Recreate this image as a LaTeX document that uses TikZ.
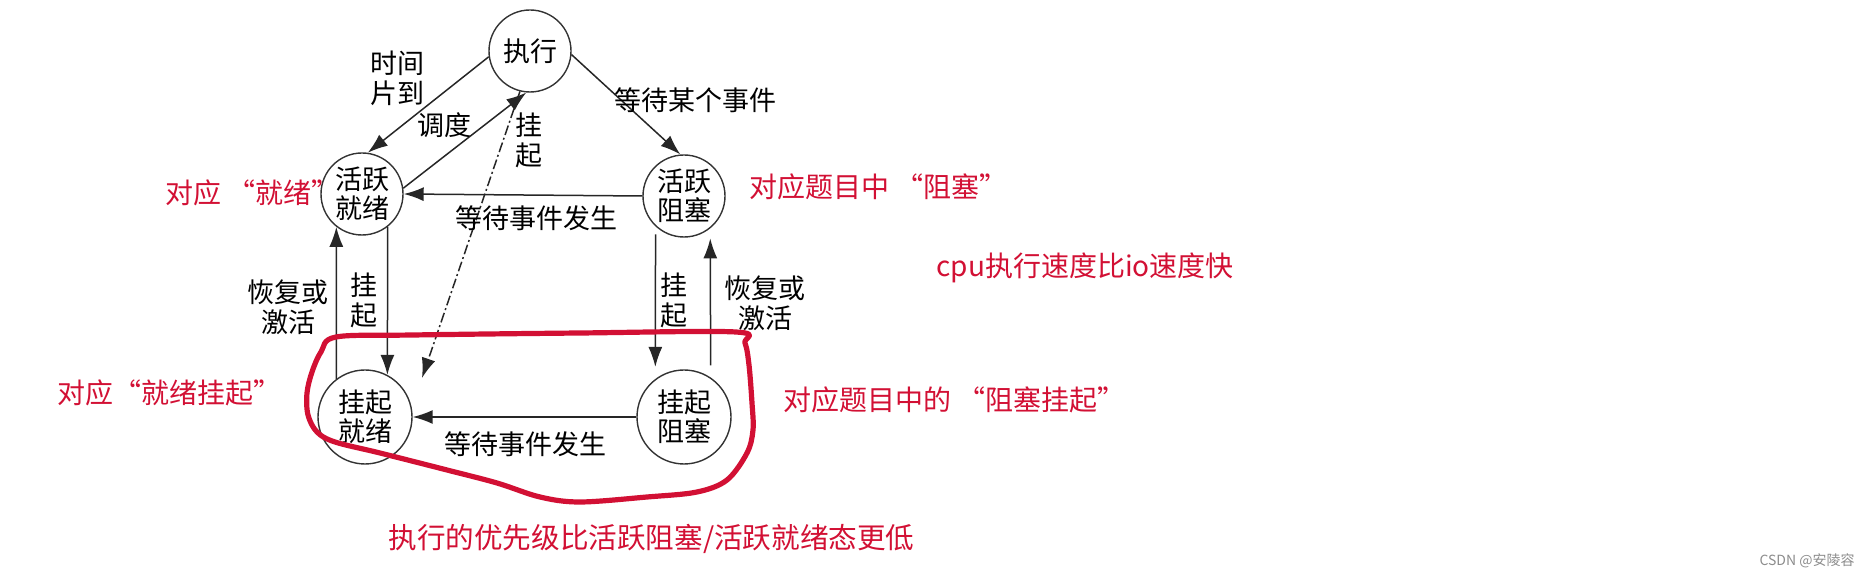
\documentclass[tikz,border=0pt]{standalone}
\usepackage{fontspec}
\newfontfamily\cjk{Noto Sans CJK SC}
\usetikzlibrary{arrows.meta}
\definecolor{markred}{RGB}{210,16,52}
\tikzset{
  state/.style={draw=black!80, line width=0.7pt, circle, minimum size=41pt, inner sep=0pt, align=center, font=\cjk\fontsize{13.5}{14.5}\selectfont},
  bigstate/.style={state, minimum size=47pt},
  trans/.style={draw=black!85, line width=0.75pt, -{Latex[length=10pt,width=7pt]}},
  lbl/.style={inner sep=0pt, align=center, font=\cjk\fontsize{13.5}{15}\selectfont},
  note/.style={inner sep=0pt, anchor=west, text=markred, font=\cjk\fontsize{14}{16}\selectfont},
}

\begin{document}
\begin{tikzpicture}[x=0.5pt,y=0.5pt,yscale=-1,xscale=1]
    \useasboundingbox (0,0) rectangle (1869,576);

    % States
    \node[state] (zx) at (530,51) {执行};
    \node[state] (hy) at (362,194) {活跃\\就绪};
    \node[state] (hz) at (684,196) {活跃\\阻塞};
    \node[bigstate] (gj) at (365,417) {挂起\\就绪};
    \node[bigstate] (gz) at (684,417) {挂起\\阻塞};
    \coordinate (gjs) at (422,378);

    %Straight Lines: 时间片到
    \draw[trans] (zx.188) -- (hy.82);
    %Straight Lines: 调度
    \draw[trans] (hy.8) -- (zx.-95);
    %Straight Lines: 挂起 (dash dot)
    \draw[trans, dash pattern=on 5pt off 1.5pt on 1pt off 1.5pt] (zx.-104) -- (gjs);
    %Straight Lines: 等待某个事件
    \draw[trans] (zx.-5) -- (hz.95);
    %Straight Lines: 等待事件发生
    \draw[trans] (hz.west) -- (hy.east);
    %Straight Lines: 挂起, left
    \draw[trans] (hy.-52) -- (gj.62);
    %Straight Lines: 恢复或激活, left
    \draw[trans] (gj.127) -- (hy.-128);
    %Straight Lines: 挂起, right
    \draw[trans, shorten <=4pt, shorten >=6pt] (hz.-133) -- (gz.127);
    %Straight Lines: 恢复或激活, right
    \draw[trans, shorten <=6pt, shorten >=5pt] (gz.56) -- (hz.-51);
    %Straight Lines: 等待事件发生, bottom
    \draw[trans] (gz.west) -- (gj.east);

    % Text Node
    \node[lbl] (l1) at (397,78) {时间\\片到};
    % Text Node
    \node[lbl] (l2) at (444,125) {调度};
    % Text Node
    \node[lbl] (l3) at (529,140) {挂\\起};
    % Text Node
    \node[lbl] (l4) at (695,100) {等待某个事件};
    % Text Node
    \node[lbl] (l5) at (536,218) {等待事件发生};
    % Text Node
    \node[lbl] (l6) at (288,307) {恢复或\\激活};
    % Text Node
    \node[lbl] (l7) at (364,300) {挂\\起};
    % Text Node
    \node[lbl] (l8) at (674,300) {挂\\起};
    % Text Node
    \node[lbl] (l9) at (765,303) {恢复或\\激活};
    % Text Node
    \node[lbl] (l10) at (525,444) {等待事件发生};

    %Curve Lines: red loop
    \draw[markred, line width=2.6pt, line join=round] plot[smooth cycle, tension=0.55] coordinates {
      (336,337) (413,335) (580,333) (736,332) (745,343) (749,365) (752,403) (753,430)
      (747,453) (727,480) (697,492) (647,497) (580,502) (540,497) (497,483) (447,470)
      (380,453) (335,442) (317,432) (308,415) (307,393) (312,372) (321,352)};

    % Red notes
    \node[note] (n1) at (165,193) {对应 “就绪”};
    \node[note] (n2) at (57,393) {对应“就绪挂起”};
    \node[note] (n3) at (749,187) {对应题目中 “阻塞”};
    \node[note] (n4) at (936,268) {cpu执行速度比io速度快};
    \node[note] (n5) at (783,400) {对应题目中的 “阻塞挂起”};
    \node[note, font=\cjk\fontsize{14.3}{17}\selectfont] (n6) at (388,539) {执行的优先级比活跃阻塞/活跃就绪态更低};

    % Source
    \node[inner sep=0pt, anchor=east, text=black!45, font=\cjk\fontsize{7}{8}\selectfont] (src) at (1855,561) {CSDN @安陵容};

\end{tikzpicture}
\end{document}
